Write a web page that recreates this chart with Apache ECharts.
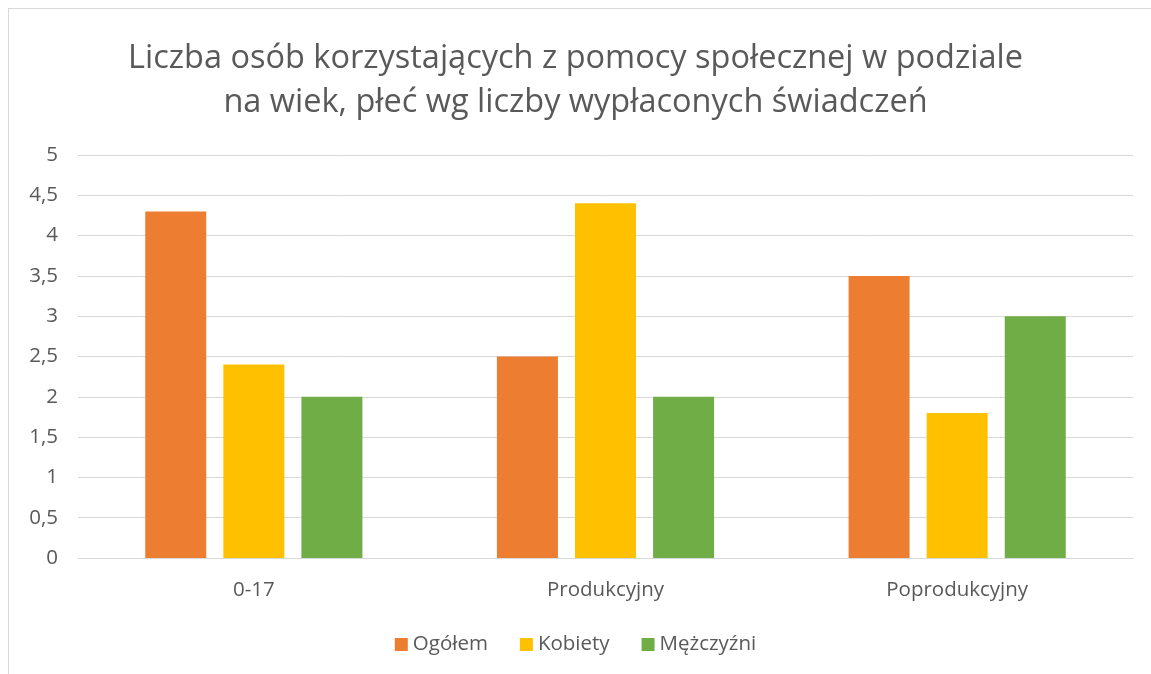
<!DOCTYPE html>
<html>
<head>
<meta charset="utf-8">
<script src="https://cdn.jsdelivr.net/npm/echarts@6/dist/echarts.min.js"></script>
<style>
  html, body { margin: 0; padding: 0; background: #fff; overflow: hidden; }
  #frame { position: absolute; left: 8px; top: 8px; width: 1200px; height: 720px; border: 1px solid #d9d9d9; }
  #chart { position: absolute; left: 0; top: 0; width: 1151px; height: 674px; }
</style>
</head>
<body>
<div id="frame"></div>
<div id="chart"></div>
<script>
var categories = ['0-17', 'Produkcyjny', 'Poprodukcyjny'];
var ogolem = [4.3, 2.5, 3.5];
var kobiety = [2.4, 4.4, 1.8];
var mezczyzni = [2, 2, 3];

var chart = echarts.init(document.getElementById('chart'));
var font = 'Open Sans';

function bar(name, data, color) {
    return {
        name: name,
        type: 'bar',
        data: data,
        barWidth: 61,
        barGap: '28%',
        itemStyle: { color: color },
        emphasis: { disabled: true }
    };
}

chart.setOption({
    animation: false,
    title: {
        text: 'Liczba osób korzystających z pomocy społecznej w podziale\nna wiek, płeć wg liczby wypłaconych świadczeń',
        left: 'center',
        top: 32,
        textStyle: { fontFamily: font, fontSize: 32.5, fontWeight: 'normal', color: '#595959', lineHeight: 44 }
    },
    legend: {
        bottom: 14,
        left: 'center',
        itemWidth: 13,
        itemHeight: 13,
        itemGap: 32,
        icon: 'rect',
        textStyle: { fontFamily: font, fontSize: 20.5, color: '#595959' },
        data: ['Ogółem', 'Kobiety', 'Mężczyźni']
    },
    grid: { left: 78, right: 18, top: 155, bottom: 116, containLabel: false },
    xAxis: {
        type: 'category',
        data: categories,
        axisTick: { show: false },
        axisLine: { lineStyle: { color: '#d9d9d9' } },
        axisLabel: { fontFamily: font, fontSize: 20.5, color: '#595959', margin: 22 }
    },
    yAxis: {
        type: 'value',
        min: 0,
        max: 5,
        interval: 0.5,
        axisLine: { show: false },
        axisTick: { show: false },
        splitLine: { lineStyle: { color: '#d9d9d9' } },
        axisLabel: {
            fontFamily: font, fontSize: 20.5, color: '#595959', margin: 20,
            formatter: function (v) { return String(v).replace('.', ','); }
        }
    },
    series: [
        bar('Ogółem', ogolem, '#ed7d31'),
        bar('Kobiety', kobiety, '#ffc000'),
        bar('Mężczyźni', mezczyzni, '#70ad47')
    ]
});
</script>
</body>
</html>
